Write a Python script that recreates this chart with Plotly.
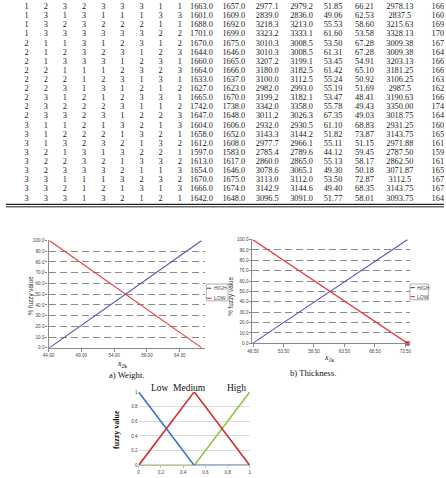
import plotly.graph_objects as go

# ---------------- data ----------------
fac_A = [1,1,1,1,2,2,2,2,2,2,2,2,2,3,3,3,3,3,3,3,3,3]
fac_B = [2,3,3,3,1,1,1,2,2,2,3,3,3,1,1,1,2,2,2,3,3,3]
fac_C = [3,1,2,3,1,2,3,1,2,3,1,2,3,1,2,3,1,2,3,1,2,3]
fac_D = [2,3,3,3,3,3,3,1,1,1,2,2,2,2,2,2,3,3,3,1,1,1]
fac_E = [3,1,2,3,1,2,3,1,2,3,1,2,3,1,2,3,1,2,3,1,2,3]
fac_F = [3,1,2,3,2,3,1,2,3,1,2,3,1,3,1,2,3,1,2,3,1,2]
fac_G = [3,1,2,3,3,1,2,3,1,2,3,1,2,2,3,1,2,3,1,2,3,1]
fac_H = [1,3,1,2,1,2,3,2,3,1,3,1,2,1,2,3,2,3,1,3,1,2]
fac_I = [1,3,1,2,2,3,1,3,1,2,1,2,3,3,1,2,1,2,3,2,3,1]

meas_1 = [1663.0,1601.0,1688.0,1701.0,1670.0,1644.0,1660.0,1664.0,1633.0,1627.0,1665.0,
          1742.0,1647.0,1604.0,1658.0,1612.0,1597.0,1613.0,1654.0,1670.0,1666.0,1642.0]
meas_2 = [1657.0,1609.0,1692.0,1699.0,1675.0,1646.0,1665.0,1666.0,1637.0,1623.0,1670.0,
          1738.0,1648.0,1606.0,1652.0,1608.0,1583.0,1617.0,1646.0,1675.0,1674.0,1648.0]
meas_3 = [2977.1,2839.0,3218.3,3323.2,3010.3,3010.3,3207.2,3180.0,3100.0,2982.0,3199.2,
          3342.0,3011.2,2932.0,3143.3,2977.7,2785.4,2860.0,3078.6,3113.0,3142.9,3096.5]
meas_4 = [2979.2,2836.0,3213.0,3333.1,3008.5,3008.5,3199.1,3182.5,3112.5,2993.0,3182.1,
          3358.0,3026.3,2930.5,3144.2,2966.1,2789.6,2865.0,3065.1,3112.0,3144.6,3091.0]
weight = [51.85,49.06,55.53,61.60,53.50,61.31,53.45,61.42,55.24,55.19,53.47,
          55.78,67.35,61.10,51.82,55.11,44.12,55.13,49.30,53.50,49.40,51.77]
thickness = [66.21,62.53,58.60,53.58,67.28,67.28,54.91,65.10,50.92,51.69,48.41,
             49.43,49.03,68.83,73.87,51.15,59.45,58.17,50.18,72.87,68.35,58.01]
meas_7 = ["2978.13","2837.5","3215.63","3328.13","3009.38","3009.38","3203.13","3181.25",
          "3106.25","2987.5","3190.63","3350.00","3018.75","2931.25","3143.75","2971.88",
          "2787.50","2862.50","3071.87","3112.5","3143.75","3093.75"]
meas_8 = ["1660.0","1605.0","1690.0","1700.0","1672.5","1645.0","1662.5","1665.0","1635.0",
          "1625.0","1667.5","1740.0","1647.5","1605.0","1655.0","1610.0","1590.0","1615.0",
          "1650.0","1672.5","1670.0","1645.0"]

high_pct = [0, 100]
low_pct = [100, 0]
weight_ticks = [44, 49, 54, 59, 64]
thick_ticks = [48.5, 53.5, 58.5, 63.5, 68.5, 73.5]

mu_x = [0, 0.5, 1]
mu_low = [1, 0, 0]
mu_medium = [0, 1, 0]
mu_high = [0, 0, 1]

# ---------------- layout helpers ----------------
W, H = 446, 478
def pxx(x): return x / W
def pyy(y): return 1 - y / H

SERIF = "Liberation Serif"
SANS = "Liberation Sans"

fig = go.Figure()

# ---------------- table (text on hidden axes) ----------------
columns = [
    [str(v) for v in fac_A], [str(v) for v in fac_B], [str(v) for v in fac_C],
    [str(v) for v in fac_D], [str(v) for v in fac_E], [str(v) for v in fac_F],
    [str(v) for v in fac_G], [str(v) for v in fac_H], [str(v) for v in fac_I],
    [f"{v:.1f}" for v in meas_1], [f"{v:.1f}" for v in meas_2],
    [f"{v:.1f}" for v in meas_3], [f"{v:.1f}" for v in meas_4],
    [f"{v:.2f}" for v in weight], [f"{v:.2f}" for v in thickness],
    meas_7, meas_8,
]
col_pos = [21, 40.5, 60, 79.5, 99, 118.5, 138, 157.5, 177, 199, 232, 266, 301, 333, 365, 401, 445]
row_top, row_step = 5.0, 9.22

tx, ty, tt = [], [], []
for j, col in enumerate(columns):
    for i, s in enumerate(col):
        tx.append(col_pos[j])
        ty.append(row_top + i * row_step)
        tt.append(s)
fig.add_trace(go.Scatter(x=tx, y=ty, text=tt, mode="text",
                         textfont=dict(family=SERIF, size=8.3, color="#1a1a1a"),
                         xaxis="x4", yaxis="y4", hoverinfo="skip", showlegend=False))

# ---------------- chart a) weight ----------------
BLUE_AB = "#5555b0"
RED_AB = "#e83c3c"
wx = [min(weight), max(weight)]
fig.add_trace(go.Scatter(x=wx, y=high_pct, mode="lines", line=dict(color=BLUE_AB, width=1.1),
                         xaxis="x", yaxis="y", showlegend=False))
fig.add_trace(go.Scatter(x=wx, y=low_pct, mode="lines", line=dict(color=RED_AB, width=1.1),
                         xaxis="x", yaxis="y", showlegend=False))

# ---------------- chart b) thickness ----------------
tkx = [min(thickness), max(thickness)]
fig.add_trace(go.Scatter(x=tkx, y=high_pct, mode="lines", line=dict(color=BLUE_AB, width=1.1),
                         xaxis="x2", yaxis="y2", showlegend=False))
fig.add_trace(go.Scatter(x=tkx, y=low_pct, mode="lines+markers", line=dict(color=RED_AB, width=1.3),
                         marker=dict(symbol="square", size=[0, 4], color="#222"),
                         xaxis="x2", yaxis="y2", showlegend=False, cliponaxis=False))

# ---------------- chart c) membership ----------------
fig.add_trace(go.Scatter(x=mu_x, y=mu_high, mode="lines", line=dict(color="#8dc63f", width=1.6),
                         xaxis="x3", yaxis="y3", showlegend=False))
fig.add_trace(go.Scatter(x=mu_x, y=mu_low, mode="lines", line=dict(color="#3f6fc8", width=1.6),
                         xaxis="x3", yaxis="y3", showlegend=False))
fig.add_trace(go.Scatter(x=mu_x, y=mu_medium, mode="lines", line=dict(color="#c83232", width=1.6),
                         xaxis="x3", yaxis="y3", showlegend=False))

tickfont_small = dict(family=SANS, size=4.6, color="#444")

common_ab_x = dict(showgrid=False, zeroline=False, showline=True, linecolor="#8a8a8a", linewidth=1.2,
                   ticks="outside", ticklen=3, tickcolor="#8a8a8a", tickfont=tickfont_small, fixedrange=True)
common_ab_y = dict(showgrid=True, gridcolor="#8a8a8a", gridwidth=1.3, griddash="7px,4px",
                   zeroline=False, showline=True, linecolor="#8a8a8a", linewidth=1.2,
                   ticks="outside", ticklen=2, tickcolor="#8a8a8a", tickfont=tickfont_small,
                   range=[0, 100], dtick=10, tickformat=".1f", fixedrange=True)

fig.update_layout(
    width=W, height=H, margin=dict(l=0, r=0, t=0, b=0),
    paper_bgcolor="white", plot_bgcolor="rgba(0,0,0,0)", showlegend=False,
    xaxis=dict(domain=[pxx(43.3), pxx(203)], range=[44, 67.9], anchor="y",
               tickvals=weight_ticks, ticktext=[f"{v:.2f}" for v in weight_ticks], **common_ab_x),
    yaxis=dict(domain=[pyy(349.5), pyy(241)], anchor="x", **common_ab_y),
    xaxis2=dict(domain=[pxx(251), pxx(411)], range=[48.41, 74.19], anchor="y2",
                tickvals=thick_ticks, ticktext=[f"{v:.2f}" for v in thick_ticks], **common_ab_x),
    yaxis2=dict(domain=[pyy(345), pyy(240)], anchor="x2", **common_ab_y),
    xaxis3=dict(domain=[pxx(135), pxx(248.3)], range=[0, 1], anchor="y3", showgrid=False,
                zeroline=False, showline=True, linecolor="#bdbdbd", linewidth=1,
                tickvals=[0, 0.2, 0.4, 0.6, 0.8, 1], ticktext=["0", "0.2", "0.4", "0.6", "0.8", "1"],
                ticks="outside", ticklen=2, tickcolor="#bdbdbd", tickfont=tickfont_small, fixedrange=True),
    yaxis3=dict(domain=[pyy(468.3), pyy(394)], range=[0, 1], anchor="x3", showgrid=True,
                gridcolor="#dcdcdc", gridwidth=1, zeroline=False, showline=False,
                tickvals=[0, 0.2, 0.4, 0.6, 0.8, 1], ticktext=["0", "0.2", "0.4", "0.6", "0.8", "1"],
                tickfont=tickfont_small, fixedrange=True),
    xaxis4=dict(domain=[0, 1], range=[0, W], anchor="y4", visible=False, fixedrange=True),
    yaxis4=dict(domain=[0, 1], range=[H, 0], anchor="x4", visible=False, fixedrange=True),
)

shapes = []
# double rule under the table
for yline, wline in [(204.6, 1.3), (207.0, 1.0)]:
    shapes.append(dict(type="line", xref="paper", yref="paper", x0=0, x1=1,
                       y0=pyy(yline), y1=pyy(yline), line=dict(color="#222", width=wline)))

annotations = []

def legend_box(x0, x1, y0, y1, yh, yl):
    shapes.append(dict(type="rect", xref="paper", yref="paper", x0=pxx(x0), x1=pxx(x1),
                       y0=pyy(y1), y1=pyy(y0), line=dict(color="#9a9a9a", width=0.8),
                       fillcolor="white", layer="above"))
    for yy, col, lab in [(yh, BLUE_AB, "HIGH"), (yl, RED_AB, "LOW")]:
        shapes.append(dict(type="line", xref="paper", yref="paper", x0=pxx(x0 + 0.5), x1=pxx(x0 + 5),
                           y0=pyy(yy), y1=pyy(yy), line=dict(color=col, width=1.2), layer="above"))
        annotations.append(dict(xref="paper", yref="paper", x=pxx(x0 + 5.5), y=pyy(yy), text=lab,
                                showarrow=False, xanchor="left", yanchor="middle",
                                font=dict(family=SANS, size=5, color="#444")))

legend_box(204, 226, 285, 302, 289.3, 299.5)
legend_box(411.3, 430, 285, 301, 288.6, 297.7)

def arrow(xax, yax, xv, yv, tailx, taily):
    annotations.append(dict(xref=xax, yref=yax, x=xv, y=yv, text="", showarrow=True,
                            axref=xax + " domain", ayref=yax + " domain", ax=tailx, ay=taily,
                            arrowhead=2, arrowsize=1.1, arrowwidth=1, arrowcolor="#111"))

wspan = max(weight) - min(weight)
tspan = max(thickness) - min(thickness)
arrow("x", "y", min(weight) + 0.78 * wspan, 78, 1.006, 0.557)
arrow("x", "y", max(weight) - 0.30 * wspan, 30, 1.006, 0.456)
arrow("x2", "y2", min(thickness) + 0.762 * tspan, 76.2, 1.0, 0.54)
arrow("x2", "y2", max(thickness) - 0.311 * tspan, 31.1, 1.0, 0.45)

def txt(x, y, s, size, family=SERIF, angle=0, color="#111"):
    annotations.append(dict(xref="paper", yref="paper", x=pxx(x), y=pyy(y), text=s, showarrow=False,
                            textangle=angle, xanchor="center", yanchor="middle",
                            font=dict(family=family, size=size, color=color)))

txt(25, 297, "% fuzzy value", 6.3, SANS, -90, "#333")
txt(229, 297, "% fuzzy value", 6.3, SANS, -90, "#333")
txt(118, 366, "<i>x</i><sub>2k</sub>", 8)
txt(329, 360, "<i>x</i><sub>1k</sub>", 8)
txt(123, 377, "a) Weight.", 8.6)
txt(313, 375, "b) Thickness.", 8.6)
txt(111.7, 431.7, "<b>fuzzy value</b>", 8, SERIF, -90)
txt(157, 390, "Low", 9.5)
txt(187, 390, "Medium", 9.5)
txt(235, 390, "High", 9.5)

fig.update_layout(shapes=shapes, annotations=annotations)
fig.write_html("out.html")
